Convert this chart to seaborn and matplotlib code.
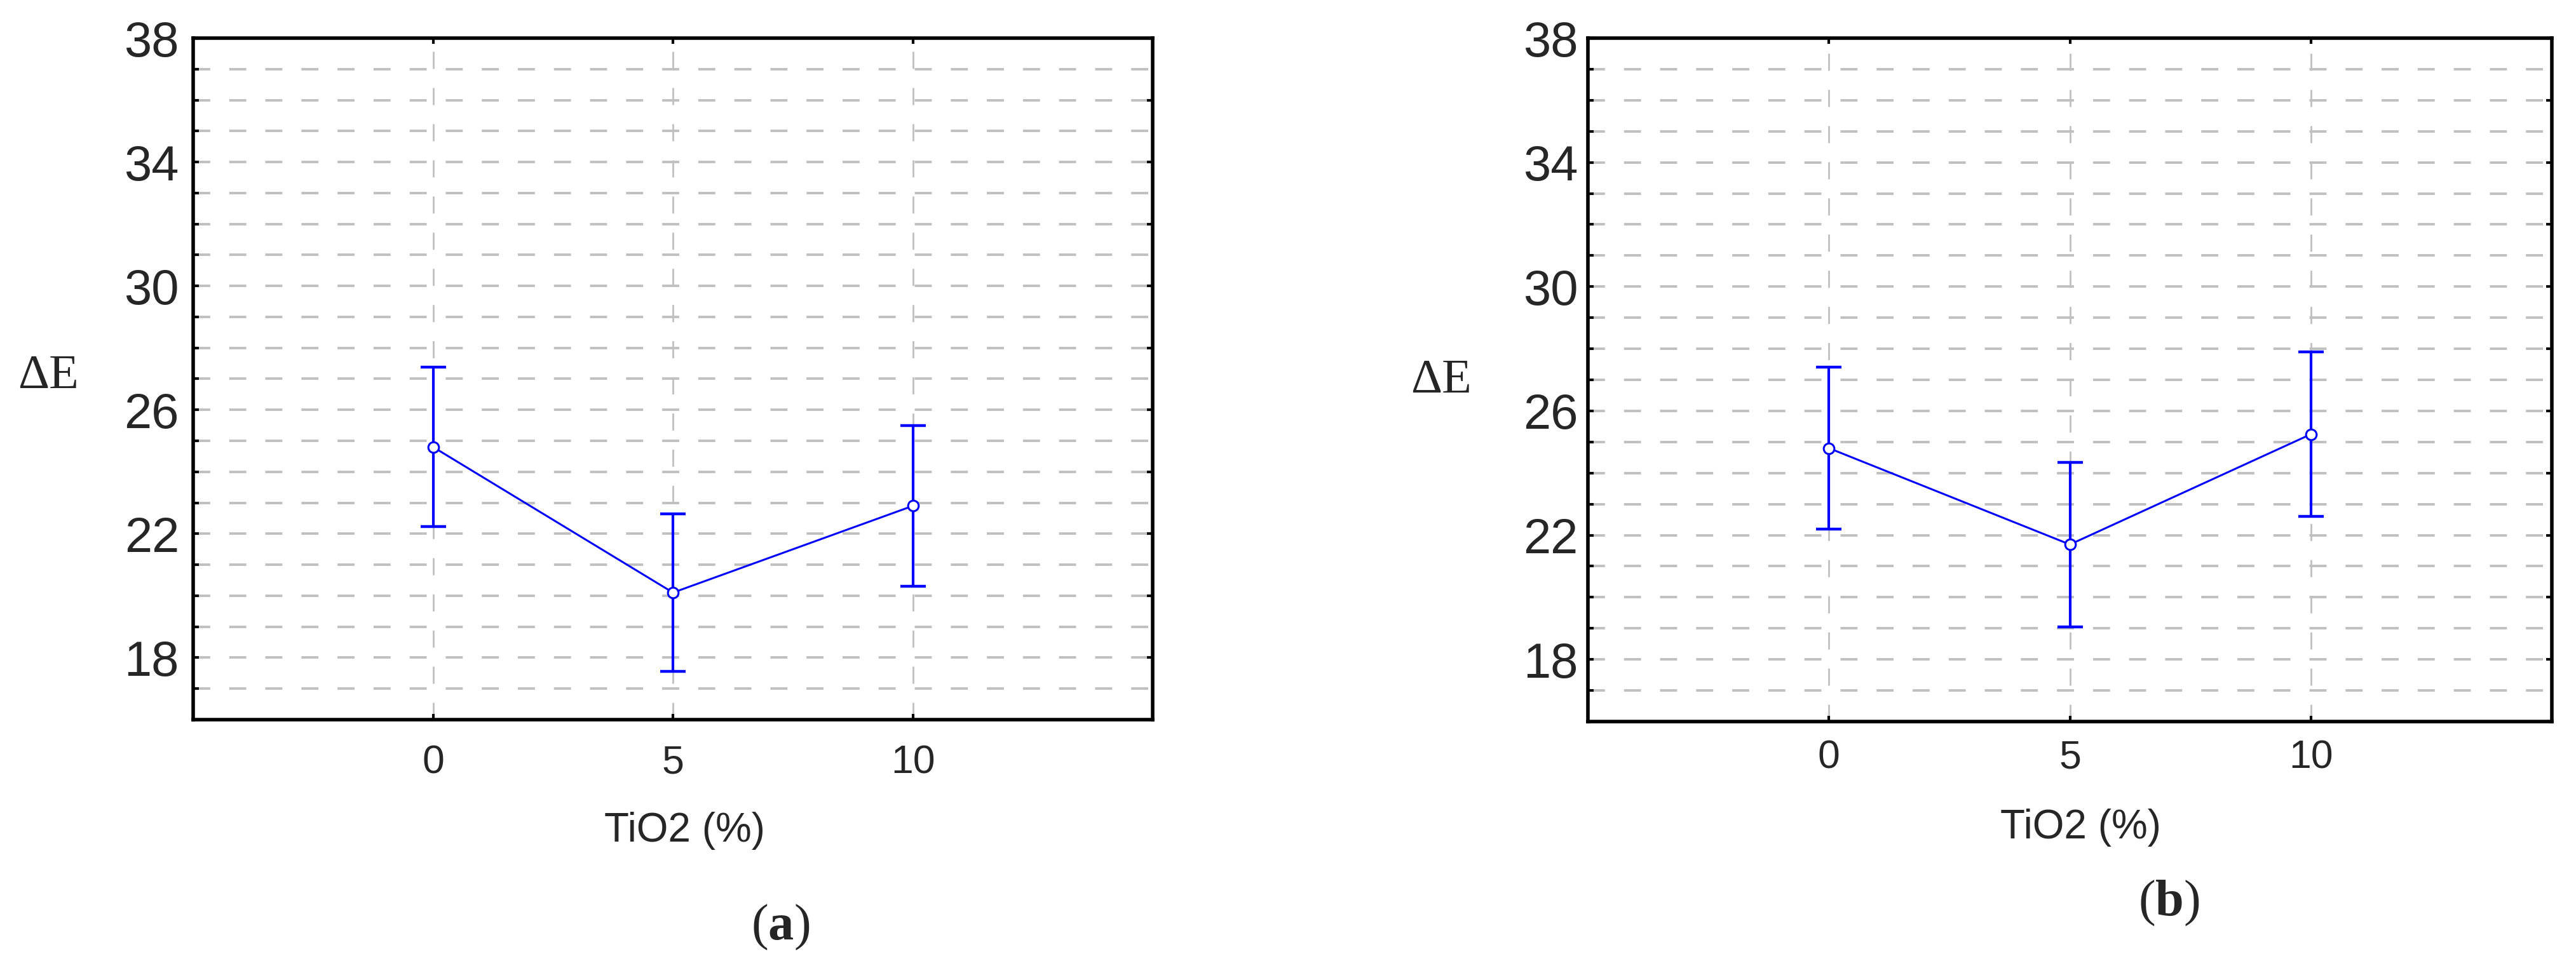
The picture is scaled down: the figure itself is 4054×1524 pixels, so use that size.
"""
Delta E vs TiO2 content, two panels (a) and (b)
"""
import numpy as np
import matplotlib
matplotlib.use("Agg")
import matplotlib.pyplot as plt
from matplotlib.ticker import MultipleLocator, FuncFormatter
import seaborn as sns

# ── data ──────────────────────────────────────────────────────
tio2 = [0, 5, 10]
de_a = [24.8, 20.1, 22.9]
err_a = [2.57, 2.55, 2.6]
de_b = [24.8, 21.7, 25.25]
err_b = [2.6, 2.65, 2.65]
y_ticks = [18, 22, 26, 30, 34, 38]
panel_labels = ["a", "b"]

sns.set_style("white")
plt.rcParams["font.family"] = ["Liberation Sans", "DejaVu Sans"]
plt.rcParams["mathtext.fontset"] = "custom"
plt.rcParams["mathtext.rm"] = "Liberation Serif"
plt.rcParams["mathtext.bf"] = "Liberation Serif:bold"

BLUE = "#0000ff"
GRID = "#c0c0c0"

fig = plt.figure(figsize=(40.55, 15.24), dpi=100)

panels = [
    dict(pos=[0.0750, 0.2566, 0.3724, 0.7040], y=de_a, err=err_a,
         ypad=16, xpad=28, dE=(0.0187, 0.6115), xl=(0.2658, 0.1417),
         lab=(0.3028, 0.042)),
    dict(pos=[0.6163, 0.2546, 0.3741, 0.7060], y=de_b, err=err_b,
         ypad=11, xpad=20, dE=(0.5593, 0.6063), xl=(0.8074, 0.1450),
         lab=(0.8417, 0.067)),
]

for p, name in zip(panels, panel_labels):
    ax = fig.add_axes(p["pos"])

    # capsize is half the cap width in matplotlib
    ax.errorbar(tio2, p["y"], yerr=p["err"], fmt="none", ecolor=BLUE,
                elinewidth=3, capsize=14.5, capthick=3.2, zorder=3)
    sns.lineplot(x=tio2, y=p["y"], ax=ax, color=BLUE, lw=2.2, marker="o",
                 markersize=12, markerfacecolor="white",
                 markeredgecolor=BLUE, markeredgewidth=2.2, zorder=4)

    ax.set_xlim(-5, 15)
    ax.set_ylim(16, 38)
    ax.set_xticks(tio2)
    ax.yaxis.set_major_locator(MultipleLocator(2))
    ax.yaxis.set_minor_locator(MultipleLocator(1))
    ax.yaxis.set_major_formatter(FuncFormatter(
        lambda v, pos: f"{v:.0f}" if int(round(v)) in y_ticks else ""))

    # grid
    ax.grid(False)
    ax.grid(axis="y", which="both", color=GRID, linewidth=2.8,
            linestyle=(0, (6.9, 7.7)), zorder=1)
    ax.grid(axis="x", which="major", color=GRID, linewidth=2.0,
            linestyle=(0, (9.7, 10.8)), zorder=1)

    for s in ax.spines.values():
        s.set_visible(True)
        s.set_linewidth(4)
        s.set_color("black")

    ax.tick_params(axis="both", which="both", direction="in",
                   length=6.5, width=3, color="black")
    ax.tick_params(axis="x", top=True, bottom=True, labelsize=45,
                   pad=p["xpad"])
    ax.tick_params(axis="y", which="major", left=True, right=True,
                   labelsize=56, pad=p["ypad"])
    ax.tick_params(axis="y", which="minor", left=True, right=False)
    ax.set_xlabel("")
    ax.set_ylabel("")

    fig.text(*p["dE"], "ΔE", family=["Liberation Serif", "DejaVu Serif"],
             fontsize=55, ha="center", va="center")
    fig.text(*p["xl"], "TiO2 (%)", fontsize=46, ha="center", va="center")
    fig.text(*p["lab"], r"($\mathbf{" + name + r"}$)",
             family=["Liberation Serif", "DejaVu Serif"], fontsize=58,
             ha="center", va="center")

plt.savefig("out.png", dpi=100)
plt.close()
